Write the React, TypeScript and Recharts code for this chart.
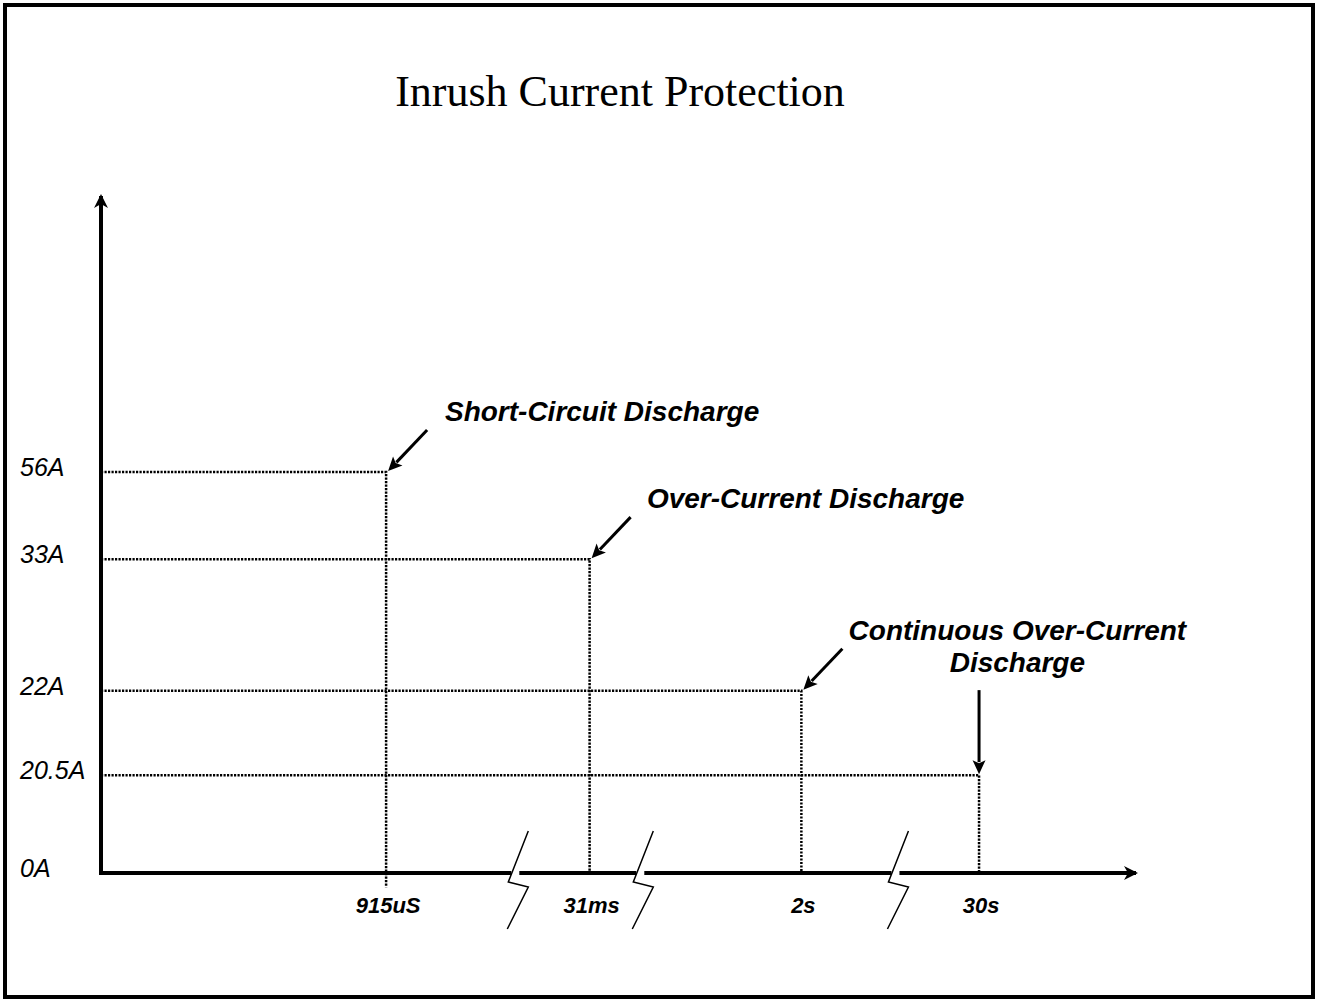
import { ComposedChart, Line, XAxis, YAxis, ReferenceLine, ReferenceDot } from "recharts";

// schematic drawing: neither axis is to scale, so every mark keeps the
// position it has on the original slide (0..100 along each axis)
const timeLabels = ["915uS", "31ms", "2s", "30s"];
const timePos = [27.6, 47.3, 67.8, 85.0];
const currentLabels = ["56A", "33A", "22A", "20.5A"];
const currentPos = [59.4, 46.5, 27.0, 14.5];
const eventNames = [
  "Short-Circuit Discharge",
  "Over-Current Discharge",
  "Continuous Over-Current\nDischarge",
  "",
];
const breakPos = [40.3, 52.4, 77.1];

const yTicks = [0, ...currentPos];
const yTickLabels = ["0A", ...currentLabels];

const FONT = '"Liberation Sans", Arial, Helvetica, sans-serif';
const DOTTED = "2.2 1.3";

function arrow(x1: number, y1: number, x2: number, y2: number) {
  const head = 14;
  const half = 6.5;
  const len = Math.hypot(x2 - x1, y2 - y1);
  const ux = (x2 - x1) / len;
  const uy = (y2 - y1) / len;
  const bx = x2 - ux * head;
  const by = y2 - uy * head;
  return (
    <g>
      <line x1={x1} y1={y1} x2={bx + ux * 2} y2={by + uy * 2} stroke="#000" strokeWidth={3} />
      <polygon
        points={`${x2},${y2} ${bx - uy * half},${by + ux * half} ${bx + ux * 3},${by + uy * 3} ${bx + uy * half},${by - ux * half}`}
        fill="#000"
      />
    </g>
  );
}

const eventMark = (name: string) => (p: any) => {
  const { cx, cy } = p;
  if (!name) return arrow(cx, cy - 85, cx, cy - 1);
  const lines = name.split("\n");
  return (
    <g>
      {arrow(cx + 41, cy - 42, cx + 2, cy - 1)}
      <text
        y={cy - 51}
        textAnchor="middle"
        fontFamily={FONT}
        fontSize={28}
        fontWeight="bold"
        fontStyle="italic"
        fill="#000"
      >
        {lines.map((l, i) => (
          <tspan key={i} x={cx + 216} dy={i === 0 ? 0 : 32}>
            {l}
          </tspan>
        ))}
      </text>
    </g>
  );
};

const BreakMark = (p: any) => {
  const { cx, cy } = p;
  return (
    <g>
      <rect x={cx - 6} y={cy - 4} width={8} height={8} fill="#fff" />
      <polyline
        points={`${cx + 11},${cy - 42} ${cx - 9},${cy + 9} ${cx + 11},${cy + 14} ${cx - 10},${cy + 56}`}
        fill="none"
        stroke="#000"
        strokeWidth={1.5}
      />
    </g>
  );
};

const XArrowHead = (p: any) => (
  <polygon
    points={`${p.cx + 4},${p.cy} ${p.cx - 10},${p.cy - 7} ${p.cx - 6},${p.cy} ${p.cx - 10},${p.cy + 7}`}
    fill="#000"
  />
);

const YArrowHead = (p: any) => (
  <polygon
    points={`${p.cx},${p.cy - 4} ${p.cx - 7},${p.cy + 10} ${p.cx},${p.cy + 6} ${p.cx + 7},${p.cy + 10}`}
    fill="#000"
  />
);

const YTick = (p: any) => {
  const i = yTicks.indexOf(p.payload.value);
  return (
    <text x={p.x - 81} y={p.y + 4} textAnchor="start" fontFamily={FONT} fontSize={25} fontStyle="italic" fill="#000">
      {yTickLabels[i]}
    </text>
  );
};

const XTick = (p: any) => {
  const i = timePos.indexOf(p.payload.value);
  return (
    <text
      x={p.x + 2}
      y={p.y + 40}
      textAnchor="middle"
      fontFamily={FONT}
      fontSize={22}
      fontWeight="bold"
      fontStyle="italic"
      fill="#000"
    >
      {timeLabels[i]}
    </text>
  );
};

export default function App() {
  return (
    <div style={{ position: "absolute", left: 0, top: 0, width: 1317, height: 1003, background: "#fff" }}>
      <div
        style={{
          position: "absolute",
          left: 3,
          top: 3,
          width: 1312,
          height: 996,
          border: "4px solid #000",
          boxSizing: "border-box",
        }}
      />
      <div
        style={{
          position: "absolute",
          left: 0,
          top: 70,
          width: 1240,
          textAlign: "center",
          fontFamily: '"Liberation Serif", "Times New Roman", serif',
          fontSize: 44,
          lineHeight: "44px",
          color: "#000",
        }}
      >
        Inrush Current Protection
      </div>
      <div style={{ position: "absolute", left: 0, top: 0 }}>
        <ComposedChart width={1317} height={1003} margin={{ top: 198, right: 183, bottom: 90, left: 21 }}>
          <XAxis
            type="number"
            dataKey="t"
            domain={[0, 100]}
            ticks={timePos}
            interval={0}
            height={40}
            tickSize={0}
            tickMargin={0}
            tickLine={false}
            axisLine={{ stroke: "#000", strokeWidth: 4, strokeLinecap: "square" }}
            tick={XTick}
          />
          <YAxis
            type="number"
            domain={[0, 100]}
            ticks={yTicks}
            interval={0}
            width={80}
            tickSize={0}
            tickMargin={0}
            tickLine={false}
            axisLine={{ stroke: "#000", strokeWidth: 4, strokeLinecap: "square" }}
            tick={YTick}
          />
          {timePos.map((t, i) => (
            <Line
              key={i}
              data={[
                { t: 0, a: currentPos[i] },
                { t, a: currentPos[i] },
                { t, a: 0 },
              ]}
              dataKey="a"
              type="linear"
              stroke="#000"
              strokeWidth={2.5}
              strokeDasharray={DOTTED}
              dot={false}
              activeDot={false}
              isAnimationActive={false}
            />
          ))}
          <ReferenceLine
            segment={[
              { x: timePos[0], y: 0 },
              { x: timePos[0], y: -2.1 },
            ]}
            ifOverflow="visible"
            stroke="#000"
            strokeWidth={2.5}
            strokeDasharray={DOTTED}
          />
          {breakPos.map((b, i) => (
            <ReferenceDot key={`b${i}`} x={b} y={0} r={1} shape={BreakMark} />
          ))}
          <ReferenceDot x={100} y={0} r={1} shape={XArrowHead} />
          <ReferenceDot x={0} y={100} r={1} shape={YArrowHead} />
          {timePos.map((t, i) => (
            <ReferenceDot key={`e${i}`} x={t} y={currentPos[i]} r={1} shape={eventMark(eventNames[i])} />
          ))}
        </ComposedChart>
      </div>
    </div>
  );
}
